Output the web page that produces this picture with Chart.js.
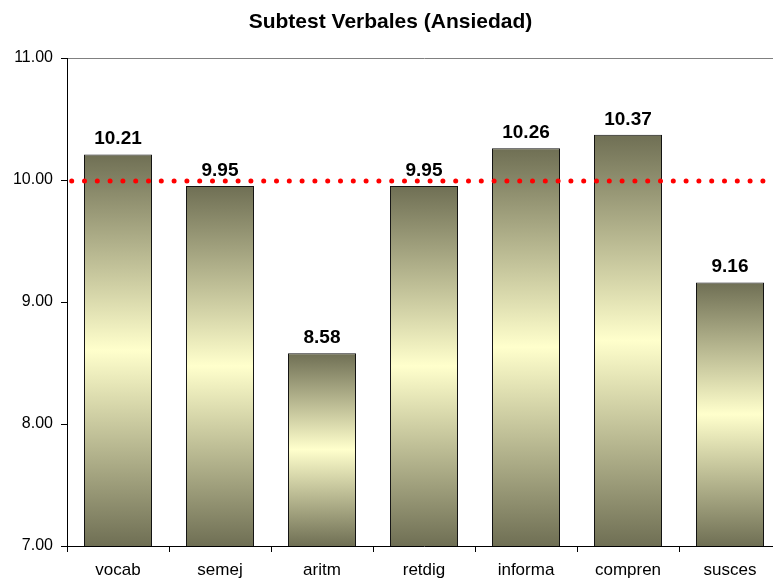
<!DOCTYPE html>
<html>
<head>
<meta charset="utf-8">
<title>Subtest Verbales (Ansiedad)</title>
<script src="https://cdn.jsdelivr.net/npm/chart.js@4/dist/chart.umd.min.js"></script>
<style>
  html, body { margin: 0; padding: 0; background: #ffffff; overflow: hidden; }
  #wrap { width: 794px; height: 580px; }
</style>
</head>
<body>
<div id="wrap"><canvas id="chart" width="794" height="580"></canvas></div>
<script>
// Subtest scores (escala típica, media normativa = 10)
const categories = ['vocab', 'semej', 'aritm', 'retdig', 'informa', 'compren', 'susces'];
const scores = [10.21, 9.95, 8.58, 9.95, 10.26, 10.37, 9.16];
const referenceValue = 10;
const yTicks = [7, 8, 9, 10, 11];

const FONT = '"Liberation Sans", Arial, Helvetica, sans-serif';
const DARK = '#6f6f54';
const LIGHT = '#ffffcc';

// Vertical gradient per bar: dark at both ends, pale yellow in the middle
function barFill(ctx) {
  const chart = ctx.chart;
  const y = chart.scales && chart.scales.y;
  if (!y || ctx.dataIndex === undefined) return LIGHT;
  const top = y.getPixelForValue(ctx.raw);
  const bottom = y.getPixelForValue(y.min);
  if (!isFinite(top) || !isFinite(bottom) || bottom - top < 1) return DARK;
  const g = chart.ctx.createLinearGradient(0, top, 0, bottom);
  g.addColorStop(0, DARK);
  g.addColorStop(0.5, LIGHT);
  g.addColorStop(1, DARK);
  return g;
}

// Red dotted reference line across the plot area
const referenceLine = {
  id: 'referenceLine',
  afterDatasetsDraw(chart) {
    const { ctx, chartArea, scales } = chart;
    const y = scales.y.getPixelForValue(referenceValue) + 1;
    ctx.save();
    ctx.strokeStyle = '#ff0000';
    ctx.lineWidth = 5;
    ctx.lineCap = 'round';
    ctx.setLineDash([0, 12.8]);
    ctx.beginPath();
    ctx.moveTo(chartArea.left + 4.7, y);
    ctx.lineTo(chartArea.right + 20, y);
    ctx.stroke();
    ctx.restore();
  }
};

// Value labels above each bar
const valueLabels = {
  id: 'valueLabels',
  afterDatasetsDraw(chart) {
    const { ctx } = chart;
    const meta = chart.getDatasetMeta(0);
    ctx.save();
    ctx.font = 'bold 19px ' + FONT;
    ctx.fillStyle = '#000000';
    ctx.textAlign = 'center';
    ctx.textBaseline = 'alphabetic';
    meta.data.forEach((bar, i) => {
      ctx.fillText(scores[i].toFixed(2), bar.x, bar.y - 10);
    });
    ctx.restore();
  }
};

new Chart(document.getElementById('chart'), {
  type: 'bar',
  data: {
    labels: categories,
    datasets: [{
      data: scores,
      backgroundColor: barFill,
      borderColor: '#111111',
      borderWidth: 1,
      borderSkipped: 'start',
      barPercentage: 0.667,
      categoryPercentage: 1.0
    }]
  },
  options: {
    responsive: false,
    animation: false,
    layout: { padding: { left: 0, right: 13, top: 0, bottom: 0 } },
    plugins: {
      legend: { display: false },
      tooltip: { enabled: false },
      title: {
        display: true,
        text: 'Subtest Verbales (Ansiedad)',
        color: '#000000',
        font: { family: FONT, size: 21, weight: 'bold', lineHeight: 1.2 },
        padding: { top: 10, bottom: 22.8 }
      }
    },
    scales: {
      x: {
        border: { display: true, color: '#000000', width: 1 },
        grid: {
          display: true,
          offset: true,
          drawOnChartArea: false,
          drawTicks: true,
          tickLength: 6,
          tickColor: '#000000'
        },
        ticks: {
          color: '#000000',
          font: { family: FONT, size: 17 },
          padding: 8,
          maxRotation: 0
        },
        afterFit(scale) { scale.height = 34; }
      },
      y: {
        min: 7,
        max: 11,
        border: { display: true, color: '#000000', width: 1 },
        grid: {
          display: true,
          drawOnChartArea: true,
          color: (c) => (c.tick && c.tick.value === yTicks[yTicks.length - 1]) ? '#808080' : 'rgba(0,0,0,0)',
          tickColor: '#000000',
          tickLength: 6
        },
        afterBuildTicks(scale) {
          scale.ticks = yTicks.map(v => ({ value: v }));
        },
        ticks: {
          color: '#000000',
          font: { family: FONT, size: 16 },
          padding: 8,
          callback: (v) => Number(v).toFixed(2)
        },
        afterFit(scale) { scale.width = 67; }
      }
    }
  },
  plugins: [referenceLine, valueLabels]
});
</script>
</body>
</html>
